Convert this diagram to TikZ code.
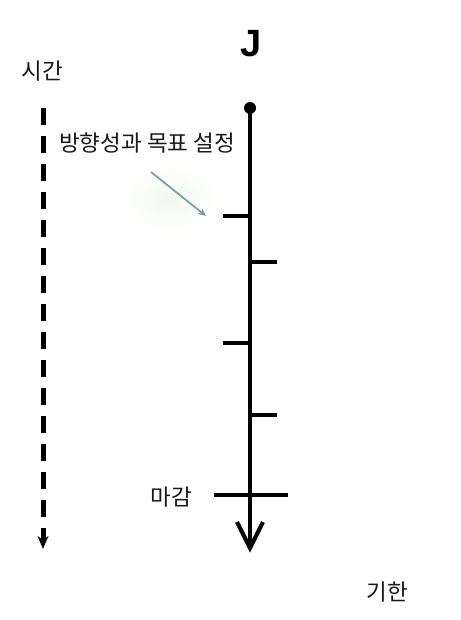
\documentclass[tikz,border=0pt]{standalone}
\usepackage{fontspec}
\setmainfont{Noto Sans CJK KR}
\newfontfamily\jfont{Liberation Sans}
\usetikzlibrary{arrows.meta,calc}
\definecolor{pointercol}{RGB}{115,158,162}
\definecolor{glowcol}{RGB}{241,249,236}
\tikzset{
  ktext/.style={font=\fontsize{22.5}{26}\selectfont, inner sep=0pt, text=black!90},
  axisline/.style={line width=4.2pt, black},
  tickline/.style={line width=3.4pt, black},
  dashline/.style={line width=5pt, black, dash pattern=on 17pt off 11pt, -{Stealth[length=13pt,width=11pt]}},
  pointer/.style={line width=1.7pt, pointercol, -{Stealth[length=8pt,width=7pt]}},
}
\begin{document}
\begin{tikzpicture}[x=1pt,y=-1pt]
\useasboundingbox[fill=white] (0,0) rectangle (460,620);
% faint green glow behind pointer
\shade[inner color=glowcol, outer color=white] (170,198) ellipse (50 and 34);
% left time axis
\coordinate (dtop) at (43,108);
\coordinate (dbot) at (43,549);
\draw[dashline] (dtop) -- (dbot);
\node[ktext] (sigan) at (42,71) {시간};
% main axis
\node[circle, fill=black, inner sep=0pt, minimum size=12pt] (dot) at (250,108) {};
\coordinate (bot) at (250,548);
\draw[axisline] (dot.center) -- (bot);
\draw[axisline, line join=miter] ($(bot)+(-13,-26)$) -- (bot) -- ($(bot)+(13,-26)$);
\node[font=\jfont\bfseries\fontsize{38}{40}\selectfont, inner sep=0pt] (J) at (251,44) {J};
% ticks
\coordinate (t1a) at (223,216); \coordinate (t1b) at (250,216);
\coordinate (t2a) at (250,262); \coordinate (t2b) at (277,262);
\coordinate (t3a) at (223,343); \coordinate (t3b) at (250,343);
\coordinate (t4a) at (250,415); \coordinate (t4b) at (277,415);
\coordinate (t5a) at (214,495); \coordinate (t5b) at (288,495);
\draw[tickline] (t1a) -- (t1b);
\draw[tickline] (t2a) -- (t2b);
\draw[tickline] (t3a) -- (t3b);
\draw[tickline] (t4a) -- (t4b);
\draw[tickline] (t5a) -- (t5b);
% labels
\node[ktext] (goal) at (147,143) {방향성과 목표 설정};
\node[ktext] (magam) at (171,497) {마감};
\node[ktext] (gihan) at (387,592) {기한};
% pointer
\coordinate (pstart) at (151,172);
\coordinate (pend) at (206,216);
\draw[pointer] (pstart) -- (pend);
\end{tikzpicture}
\end{document}
